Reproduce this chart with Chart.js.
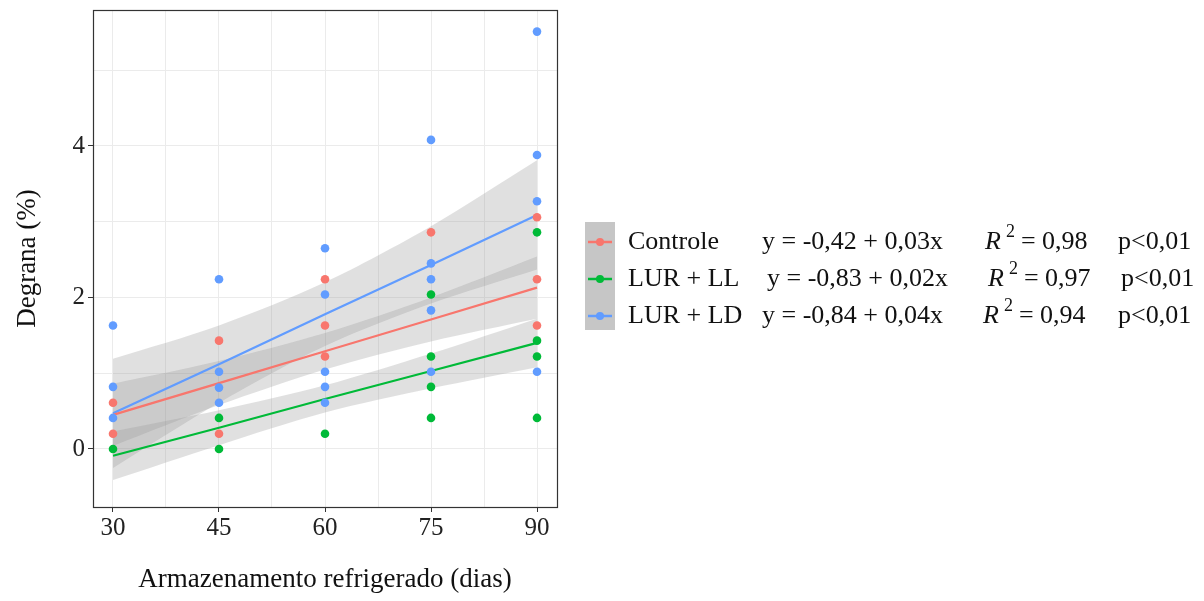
<!DOCTYPE html>
<html>
<head>
<meta charset="utf-8">
<script src="https://cdn.jsdelivr.net/npm/chart.js@4/dist/chart.umd.min.js"></script>
<style>
    body { margin: 0; background: #fff; }
</style>
</head>
<body>
<canvas id="chart" width="1204" height="601"></canvas>
<script>
// storage days (x axis)
const days = [30, 45, 60, 75, 90];

// observed values per day, one inner array per day
const controleObs = [[0.61, 0.2], [1.43, 0.2], [2.24, 1.63, 1.22], [2.86], [3.06, 2.24, 1.63]];
const lurLLObs = [[0], [0.41, 0], [0.2], [2.04, 1.22, 0.82, 0.41], [2.86, 1.43, 1.22, 0.41]];
const lurLDObs = [[1.63, 0.82, 0.41], [2.24, 1.02, 0.81, 0.61], [2.65, 2.04, 1.02, 0.82, 0.61],
    [4.08, 2.45, 2.24, 1.83, 1.02], [5.51, 3.88, 3.27, 1.02]];

// fitted lines and confidence band edges at each day
const controleFit = [0.45, 0.87, 1.29, 1.71, 2.13];
const controleUpper = [0.86, 1.16, 1.53, 2.00, 2.54];
const controleLower = [0.04, 0.58, 1.05, 1.42, 1.72];
const lurLLFit = [-0.09, 0.28, 0.66, 1.03, 1.40];
const lurLLUpper = [0.23, 0.51, 0.84, 1.26, 1.72];
const lurLLLower = [-0.41, 0.05, 0.48, 0.80, 1.08];
const lurLDFit = [0.47, 1.12, 1.78, 2.43, 3.09];
const lurLDUpper = [1.19, 1.63, 2.20, 2.94, 3.81];
const lurLDLower = [-0.25, 0.61, 1.36, 1.92, 2.37];

// legend texts
const seriesNames = ['Controle', 'LUR + LL', 'LUR + LD'];
const equations = ['y = -0,42 + 0,03x', 'y = -0,83 + 0,02x', 'y = -0,84 + 0,04x'];
const r2Values = ['0,98', '0,97', '0,94'];
const pValues = ['p<0,01', 'p<0,01', 'p<0,01'];

const xTicks = [30, 37.5, 45, 52.5, 60, 67.5, 75, 82.5, 90];
const yTicks = [0, 1, 2, 3, 4, 5];

const colors = ['#F8766D', '#00BA38', '#619CFF'];
const bandFill = 'rgba(153,153,153,0.3)';
const serif = '"Liberation Serif", "Times New Roman", serif';

const toXY = (ys) => days.map((d, i) => ({x: d, y: ys[i]}));
const obsToXY = (obs) => obs.flatMap((vals, i) => vals.map(v => ({x: days[i], y: v})));

function bandPair(upper, lower) {
    const base = {type: 'line', pointRadius: 0, borderWidth: 0, tension: 0.3, order: 3};
    return [
        {...base, data: toXY(upper), fill: '+1', backgroundColor: bandFill},
        {...base, data: toXY(lower), fill: false}
    ];
}

function fitLine(ys, color) {
    return {type: 'line', data: toXY(ys), borderColor: color, borderWidth: 2.2,
        pointRadius: 0, fill: false, order: 2};
}

function points(obs, color) {
    return {type: 'scatter', data: obsToXY(obs), backgroundColor: color,
        borderWidth: 0, pointRadius: 4.3, order: 1};
}

const legendPlugin = {
    id: 'legendAndBorder',
    afterDraw(chart) {
        const ctx = chart.ctx;
        const area = chart.chartArea;
        ctx.save();
        ctx.strokeStyle = '#333';
        ctx.lineWidth = 1.2;
        ctx.strokeRect(area.left + 0.5, area.top + 0.5, area.right - area.left, area.bottom - area.top);

        // key box
        ctx.fillStyle = '#c6c6c6';
        ctx.fillRect(585, 222, 30, 108);
        const rows = [242, 279, 316];
        const eqX = [762, 767, 762];
        const rX = [985, 988, 983];
        const pX = [1118, 1121, 1118];
        rows.forEach((y, i) => {
            ctx.strokeStyle = colors[i];
            ctx.lineWidth = 2.5;
            ctx.beginPath();
            ctx.moveTo(588, y);
            ctx.lineTo(612, y);
            ctx.stroke();
            ctx.fillStyle = colors[i];
            ctx.beginPath();
            ctx.arc(600, y, 4, 0, Math.PI * 2);
            ctx.fill();

            ctx.fillStyle = '#111';
            ctx.textBaseline = 'middle';
            ctx.font = '26px ' + serif;
            ctx.fillText(seriesNames[i], 628, y);
            ctx.fillText(equations[i], eqX[i], y);
            ctx.font = 'italic 26px ' + serif;
            ctx.fillText('R', rX[i], y);
            const rw = ctx.measureText('R').width;
            ctx.font = '18px ' + serif;
            ctx.fillText('2', rX[i] + rw + 5, y - 10);
            ctx.font = '26px ' + serif;
            ctx.fillText('= ' + r2Values[i], rX[i] + rw + 20, y);
            ctx.fillText(pValues[i], pX[i], y);
        });
        ctx.restore();
    }
};

new Chart(document.getElementById('chart'), {
    type: 'scatter',
    data: {
        datasets: [
            ...bandPair(controleUpper, controleLower),
            ...bandPair(lurLLUpper, lurLLLower),
            ...bandPair(lurLDUpper, lurLDLower),
            fitLine(controleFit, colors[0]),
            fitLine(lurLLFit, colors[1]),
            fitLine(lurLDFit, colors[2]),
            points(controleObs, colors[0]),
            points(lurLLObs, colors[1]),
            points(lurLDObs, colors[2])
        ]
    },
    options: {
        responsive: false,
        animation: false,
        layout: {padding: {left: 0, top: 10, right: 647, bottom: 0}},
        plugins: {legend: {display: false}, tooltip: {enabled: false}},
        scales: {
            x: {
                type: 'linear',
                min: 27.17,
                max: 92.83,
                afterBuildTicks: (scale) => { scale.ticks = xTicks.map(v => ({value: v})); },
                afterFit: (scale) => { scale.height = 94; },
                border: {display: false},
                grid: {
                    color: '#ebebeb',
                    lineWidth: 1,
                    tickLength: 5,
                    tickColor: (c) => (c.tick && c.tick.value % 15 === 0) ? '#333' : 'rgba(0,0,0,0)'
                },
                ticks: {
                    padding: 1,
                    color: '#222',
                    font: {family: serif, size: 25},
                    maxRotation: 0,
                    autoSkip: false,
                    callback: (v) => v % 15 === 0 ? String(v) : ''
                },
                title: {
                    display: true,
                    text: 'Armazenamento refrigerado (dias)',
                    color: '#111',
                    font: {family: serif, size: 27},
                    padding: {top: 0, bottom: 5}
                }
            },
            y: {
                type: 'linear',
                min: -0.766,
                max: 5.795,
                afterBuildTicks: (scale) => { scale.ticks = yTicks.map(v => ({value: v})); },
                afterFit: (scale) => {
                    scale.width = 93;
                    scale.paddingTop = 0;
                    scale.paddingBottom = 0;
                },
                border: {display: false},
                grid: {
                    color: '#ebebeb',
                    lineWidth: 1,
                    tickLength: 5,
                    tickColor: (c) => (c.tick && c.tick.value % 2 === 0) ? '#333' : 'rgba(0,0,0,0)'
                },
                ticks: {
                    padding: 3,
                    color: '#222',
                    font: {family: serif, size: 25},
                    autoSkip: false,
                    callback: (v) => v % 2 === 0 ? String(v) : ''
                },
                title: {
                    display: true,
                    text: 'Degrana (%)',
                    color: '#111',
                    font: {family: serif, size: 27},
                    padding: {top: 12, bottom: 0}
                }
            }
        }
    },
    plugins: [legendPlugin]
});
</script>
</body>
</html>
